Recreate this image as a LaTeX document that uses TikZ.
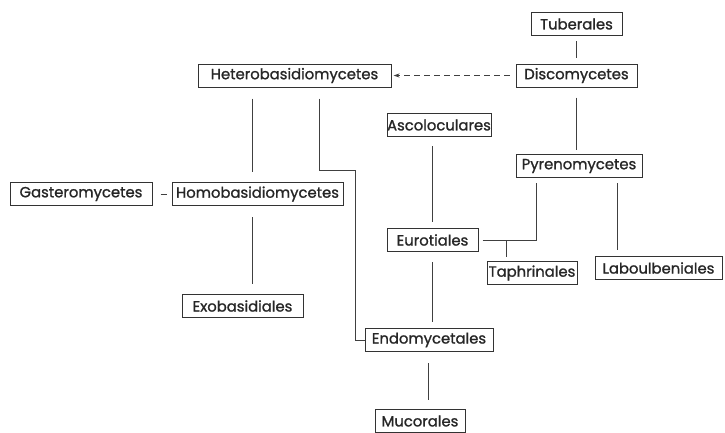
\documentclass[tikz,border=0pt]{standalone}
\usepackage{fontspec}
\setmainfont{Poppins}[BoldFont=Poppins, BoldFeatures={FakeBold=1.2}]
\usetikzlibrary{arrows.meta}
\begin{document}
\begin{tikzpicture}[x=1pt,y=-1pt,
  taxon/.style={draw=black!80, line width=1pt, rectangle, minimum height=23pt,
    inner sep=0pt, font=\fontsize{14.8}{17}\bfseries, text=black!85},
  link/.style={draw=black!75, line width=1pt},
]
\useasboundingbox (0,0) rectangle (725,432);

% taxa
\node[taxon, minimum width=91]  (tub)     at (576.5,24)  {Tuberales};
\node[taxon, minimum width=121] (disco)   at (576.5,75.5){Discomycetes};
\node[taxon, minimum width=193] (hetero)  at (294.5,75.5){Heterobasidiomycetes};
\node[taxon, minimum width=104] (asco)    at (439,125)   {Ascoloculares};
\node[taxon, minimum width=126] (pyreno)  at (579,166)   {Pyrenomycetes};
\node[taxon, minimum width=142] (gastero) at (81,194)    {Gasteromycetes};
\node[taxon, minimum width=171] (homo)    at (257.5,194) {Homobasidiomycetes};
\node[taxon, minimum width=91]  (euro)    at (432.5,240) {Eurotiales};
\node[taxon, minimum width=90]  (taph)    at (532,273)   {Taphrinales};
\node[taxon, minimum width=127] (labo)    at (658.5,268) {Laboulbeniales};
\node[taxon, minimum width=121] (exo)     at (242.5,306) {Exobasidiales};
\node[taxon, minimum width=128] (endo)    at (429,340)   {Endomycetales};
\node[taxon, minimum width=90]  (muco)    at (420,421)   {Mucorales};

\coordinate (bend) at (355,170);

% connections
\draw[link, shorten <=5pt, shorten >=6pt] (tub) -- (disco);
\draw[link, shorten <=10pt, shorten >=4pt] (disco.south) -- (disco.south |- pyreno.north);
\draw[link, dashed, dash pattern=on 6pt off 4pt, -{Stealth[length=6pt,width=4pt]},
      shorten <=6pt, shorten >=2pt] (disco.west) -- (hetero.east);
\draw[link, shorten <=11pt, shorten >=10pt] ([xshift=-5.5]homo.north |- hetero.south) -- ([xshift=-5.5]homo.north);
\draw[link, shorten <=11pt] ([xshift=24.5]hetero.south) |- (bend) |- (endo.west);
\draw[link, shorten <=8pt, shorten >=5pt] (gastero) -- (homo);
\draw[link, shorten <=11pt, shorten >=10pt] ([xshift=-5.5]homo.south) -- ([xshift=-5.5]homo.south |- exo.north);
\draw[link, shorten <=9pt, shorten >=6pt] (euro.north |- asco.south) -- (euro.north);
\draw[link, shorten <=10pt, shorten >=6pt] (euro.south) -- (euro.south |- endo.north);
\draw[link, shorten <=11pt, shorten >=9pt] ([xshift=-1]endo.south) -- ([xshift=-1]endo.south |- muco.north);
\draw[link, shorten <=4pt, shorten >=5pt] (euro.east) -| ([xshift=-43]pyreno.south);
\draw[link, shorten >=4pt] ([xshift=-26]taph.north |- euro.east) -- ([xshift=-26]taph.north);
\draw[link, shorten <=5pt, shorten >=6pt] ([xshift=38]pyreno.south) -- ([xshift=38]pyreno.south |- labo.north);
\end{tikzpicture}
\end{document}
